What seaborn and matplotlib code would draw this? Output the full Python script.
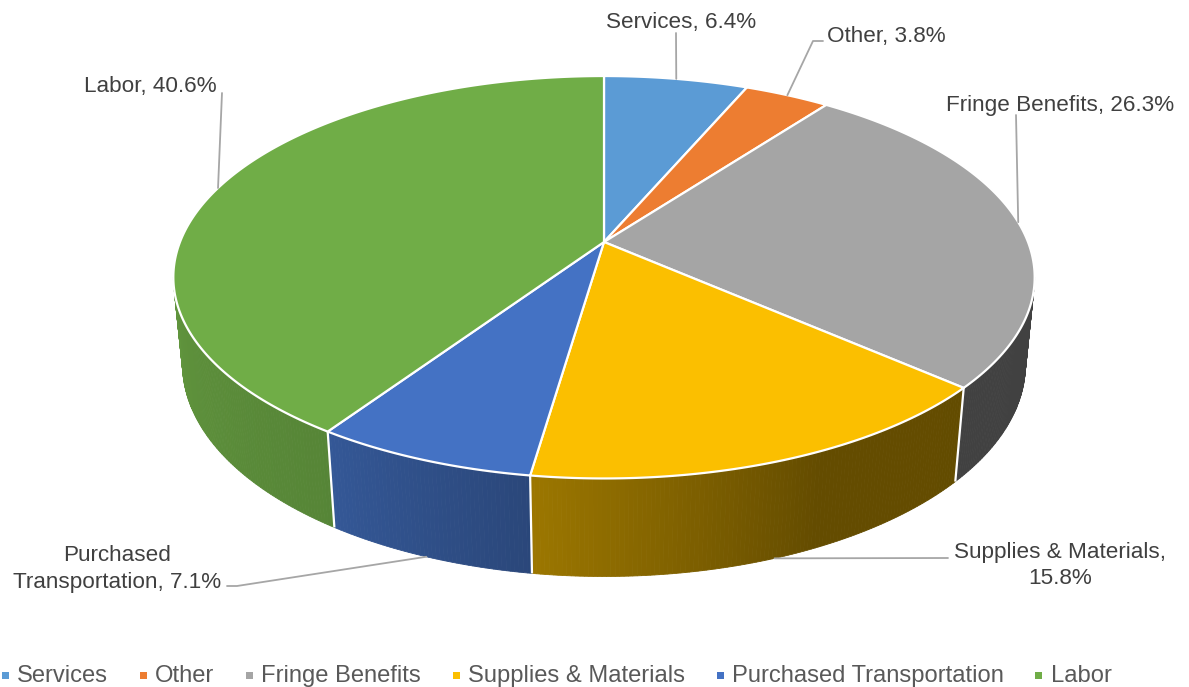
import numpy as np
import matplotlib
matplotlib.use("Agg")
import matplotlib.pyplot as plt
from matplotlib.patches import Polygon, Rectangle
import seaborn as sns

# ---- data -------------------------------------------------------------
categories = ["Services", "Other", "Fringe Benefits", "Supplies & Materials",
              "Purchased Transportation", "Labor"]
shares = [6.4, 3.8, 26.3, 15.8, 7.1, 40.6]
slice_colors = ["#5B9BD5", "#ED7D31", "#A5A5A5", "#FBBF00", "#4472C4", "#70AD47"]

# ---- style ------------------------------------------------------------
sns.set_theme(style="white")
plt.rcParams["font.family"] = ["Liberation Sans", "DejaVu Sans"]
palette = sns.color_palette(slice_colors)

LABEL_COLOR = "#404040"
LEGEND_COLOR = "#595959"
LEADER_COLOR = "#A6A6A6"

# ---- 3-D pie geometry (perspective camera) ----------------------------
CX, CY = 604.0, 242.0          # screen position of the pie centre
SIN_T, COS_T = 0.46, 0.888     # camera tilt
DIST = 5.07                    # camera distance (pie radius = 1)
FOCAL = 424.0 * DIST
THICK = 0.2336                 # pie height


def project(theta_deg, height=0.0):
    t = np.radians(np.asarray(theta_deg, dtype=float))
    x, z = np.sin(t), np.cos(t)
    up = height * COS_T + z * SIN_T
    depth = DIST + z * COS_T - height * SIN_T
    return CX + FOCAL * x / depth, CY - FOCAL * up / depth


def wall_shade(theta):
    return np.interp(theta, [100, 155, 188, 214, 260],
                     [0.39, 0.40, 0.62, 0.77, 0.86])


fig = plt.figure(figsize=(11.89, 6.87), dpi=100)
ax = fig.add_axes([0, 0, 1, 1])
ax.set_xlim(0, 1189)
ax.set_ylim(687, 0)
ax.axis("off")

fractions = np.array(shares) / np.sum(shares)
bounds = np.concatenate([[0.0], np.cumsum(fractions) * 360.0])

# visible outer wall (between the two silhouette angles)
a = COS_T / DIST
vis_lo = np.degrees(np.arccos(-a))
vis_hi = 360.0 - vis_lo

for i, col in enumerate(palette):
    lo, hi = max(bounds[i], vis_lo), min(bounds[i + 1], vis_hi)
    if hi <= lo:
        continue
    steps = np.linspace(lo, hi, max(2, int((hi - lo) / 0.5) + 1))
    for t0, t1 in zip(steps[:-1], steps[1:]):
        xt, yt = project([t0, t1], 0.0)
        xb, yb = project([t1, t0], -THICK)
        shade = wall_shade(0.5 * (t0 + t1))
        c = tuple(np.clip(np.array(col) * shade, 0, 1))
        ax.add_patch(Polygon(np.column_stack([np.r_[xt, xb], np.r_[yt, yb]]),
                             closed=True, facecolor=c, edgecolor=c, lw=0.6))

# white seams on the wall
for b in bounds[1:-1]:
    if vis_lo < b < vis_hi:
        xt, yt = project(b, 0.0)
        xb, yb = project(b, -THICK)
        ax.plot([xt, xb], [yt, yb], color="white", lw=1.6,
                solid_capstyle="butt", zorder=3)

# top face
for i, col in enumerate(palette):
    arc = np.linspace(bounds[i], bounds[i + 1], 200)
    xs, ys = project(arc, 0.0)
    pts = np.column_stack([np.r_[CX, xs], np.r_[CY, ys]])
    ax.add_patch(Polygon(pts, closed=True, facecolor=col, edgecolor="white",
                         lw=1.6, joinstyle="round", zorder=4))

# ---- data labels with leader lines -----------------------------------
mids = 0.5 * (bounds[:-1] + bounds[1:])
label_lines = [
    [f"{categories[0]}, {shares[0]}%"],
    [f"{categories[1]}, {shares[1]}%"],
    [f"{categories[2]}, {shares[2]}%"],
    ["Supplies & Materials,", f"{shares[3]}%"],
    ["Purchased", f"Transportation, {shares[4]}%"],
    [f"{categories[5]}, {shares[5]}%"],
]
# (x, first baseline, alignment, line step) for each label block
label_layout = [
    (681, 28, "center", 0),
    (827, 42, "left", 0),
    (1060, 111, "center", 0),
    (1060, 558, "center", 26),
    (117, 561, "center", 27),
    (217, 92, "right", 0),
]
# leader bends (after the anchor on the pie)
leader_paths = [
    [(676, 33)],
    [(813, 41), (823, 41)],
    [(1016, 115)],
    [(948, 558)],
    [(237, 586), (227, 586)],
    [(222, 93)],
]

for i in range(len(categories)):
    on_wall = vis_lo < mids[i] < vis_hi
    ax0, ay0 = project(mids[i], -THICK if on_wall else 0.0)
    px = [float(ax0)] + [p[0] for p in leader_paths[i]]
    py = [float(ay0)] + [p[1] for p in leader_paths[i]]
    ax.plot(px, py, color=LEADER_COLOR, lw=1.3, zorder=5)
    x, y0, ha, step = label_layout[i]
    for k, line in enumerate(label_lines[i]):
        ax.text(x, y0 + k * step, line, ha=ha, va="baseline",
                fontsize=16.2, color=LABEL_COLOR, zorder=6)

# ---- legend ----------------------------------------------------------
fig.canvas.draw()
renderer = fig.canvas.get_renderer()
mx = 5.0
for cat, col in zip(categories, palette):
    ax.add_patch(Rectangle((mx - 3.5, 675 - 3.5), 7, 7, facecolor=col,
                           edgecolor="none"))
    t = ax.text(mx + 12, 682, cat, ha="left", va="baseline",
                fontsize=17.1, color=LEGEND_COLOR)
    bb = t.get_window_extent(renderer)
    mx = mx + 12 + bb.width + 35

fig.savefig("out.png", dpi=100, facecolor="white")
